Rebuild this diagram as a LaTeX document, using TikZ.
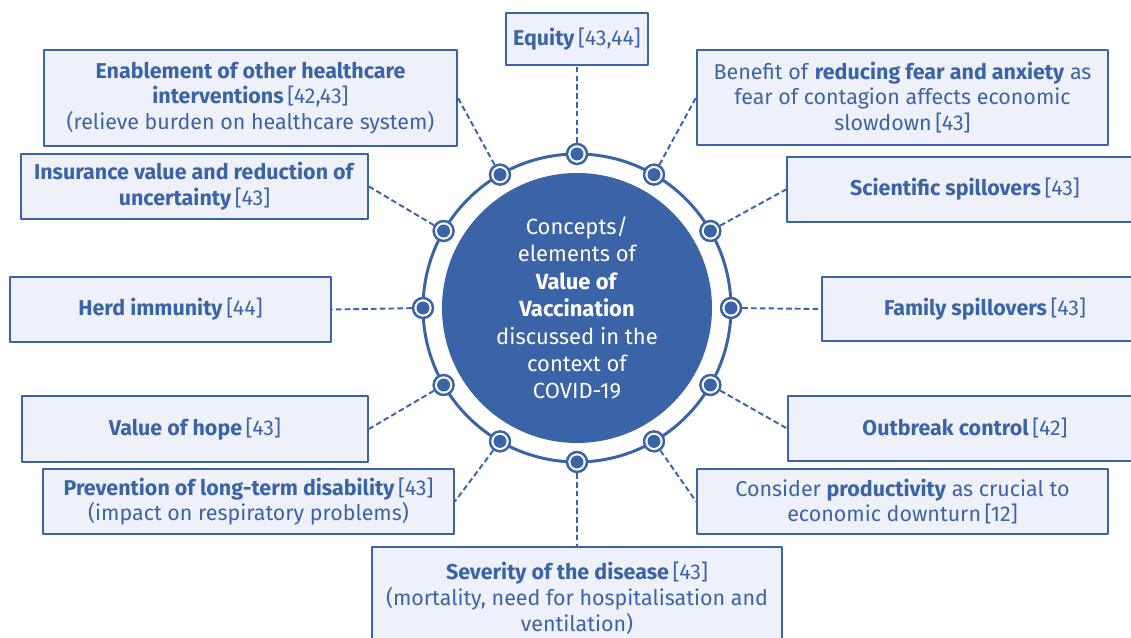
\documentclass[tikz,border=0pt]{standalone}
\usepackage{fontspec}
\setmainfont{Fira Sans}
\definecolor{vblue}{RGB}{59,99,168}
\definecolor{vpale}{RGB}{238,241,249}
\newcommand\rf[1]{{\mdseries\,[#1]}}
\begin{document}
\begin{tikzpicture}[line join=round,
  box/.style={draw=vblue, fill=vpale, line width=1.1pt, text=vblue, align=center, inner sep=0pt, font=\fontsize{12.2}{14.7}\selectfont},
  dot/.style={circle, draw=vblue, fill=white, line width=1.4pt, minimum size=0.4cm, inner sep=0pt,
    path picture={\fill[vblue] (path picture bounding box.center) circle(0.13);}},
  conn/.style={vblue, line width=1.1pt, dash pattern=on 3.2pt off 1.8pt}]
\useasboundingbox (0,0) rectangle (22.62,12.76);
\node[circle, fill=vblue, minimum size=5.4cm, inner sep=0pt, text=white, align=center, font=\fontsize{12.5}{15.6}\selectfont] (core) at (11.54,6.60)
  {Concepts/\\elements of\\\textbf{Value of}\\\textbf{Vaccination}\\discussed in the\\context of\\COVID-19};
\draw[vblue, line width=1.7pt] (core.center) circle (3.08);
\foreach \a in {0,30,...,330}
  \node[dot] (d\a) at ([shift={(\a:3.08)}]core.center) {};
\node[box, minimum width=2.84cm, minimum height=1.04cm] (equity) at (11.54,11.98) {\textbf{Equity}\rf{43,44}};
\node[box, minimum width=8.26cm, minimum height=1.92cm] (enable) at (5.01,10.80)
  {\textbf{Enablement of other healthcare}\\\textbf{interventions}\rf{42,43}\\(relieve burden on healthcare system)};
\node[box, minimum width=8.22cm, minimum height=1.90cm] (fear) at (18.05,10.81)
  {Benefit of \textbf{reducing fear and anxiety} as\\fear of contagion affects economic\\slowdown\rf{43}};
\node[box, minimum width=6.94cm, minimum height=1.30cm] (insur) at (3.89,9.03)
  {\textbf{Insurance value and reduction of}\\\textbf{uncertainty}\rf{43}};
\node[box, minimum width=7.12cm, minimum height=1.30cm] (sci) at (19.30,8.97) {\textbf{Scientific spillovers}\rf{43}};
\node[box, minimum width=6.42cm, minimum height=1.30cm] (herd) at (3.41,6.57) {\textbf{Herd immunity}\rf{44}};
\node[box, minimum width=6.52cm, minimum height=1.28cm] (family) at (19.70,6.58) {\textbf{Family spillovers}\rf{43}};
\node[box, minimum width=6.92cm, minimum height=1.32cm] (hope) at (3.90,4.18) {\textbf{Value of hope}\rf{43}};
\node[box, minimum width=7.08cm, minimum height=1.30cm] (outbreak) at (19.30,4.19) {\textbf{Outbreak control}\rf{42}};
\node[box, minimum width=8.22cm, minimum height=1.30cm] (prevent) at (4.97,2.73)
  {\textbf{Prevention of long-term disability}\rf{43}\\(impact on respiratory problems)};
\node[box, minimum width=8.22cm, minimum height=1.30cm] (consider) at (18.05,2.73)
  {Consider \textbf{productivity} as crucial to\\economic downturn\rf{12}};
\node[box, minimum width=8.20cm, minimum height=2.04cm] (severity) at (11.54,0.80)
  {\textbf{Severity of the disease}\rf{43}\\(mortality, need for hospitalisation and\\ventilation)};
\foreach \a/\b in {90/equity.south, 120/enable.east, 60/fear.west, 150/insur.east, 30/sci.west, 180/herd.east,
    0/family.west, 210/hope.east, 330/outbreak.west, 240/prevent.east, 300/consider.west, 270/severity.north}
  \draw[conn] (d\a) -- (\b);
\end{tikzpicture}
\end{document}
